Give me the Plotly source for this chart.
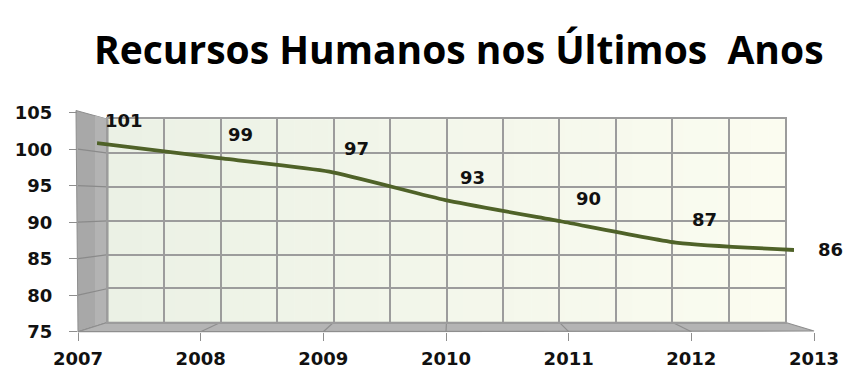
import plotly.graph_objects as go

# Headcount per year
years = ["2007", "2008", "2009", "2010", "2011", "2012", "2013"]
headcount = [101, 99, 97, 93, 90, 87, 86]
y_ticks = [75, 80, 85, 90, 95, 100, 105]

W, H = 843, 369
Y_MIN, Y_MAX = 75, 105

# pixel boxes of the three planes of the pseudo-3D chart
FRONT = dict(x0=78, x1=814, y_top=112.7, y_bot=331.7)
BACK = dict(x0=108, x1=785, y_top=119.3, y_bot=322.3)
MID = dict(x0=97, x1=794, y_top=114.7, y_bot=328.3)


def px(x):
    return x / W


def py(y):
    return 1 - y / H


def dom_x(box):
    return [px(box["x0"]), px(box["x1"])]


def dom_y(box):
    return [py(box["y_bot"]), py(box["y_top"])]


def y_on(box, v):
    return box["y_bot"] - (v - Y_MIN) / (Y_MAX - Y_MIN) * (box["y_bot"] - box["y_top"])


def x_on(box, k):
    return box["x0"] + k / (len(years) - 1) * (box["x1"] - box["x0"])


grid_col = "#9c9c9c"
tick_font = dict(family="DejaVu Sans", size=18, color="#111111", weight=700)

fig = go.Figure()

# invisible anchors so the front and back axes get their own subplots
fig.add_trace(go.Scatter(x=[0, 6], y=[Y_MIN, Y_MAX], xaxis="x", yaxis="y",
                         mode="markers", marker=dict(opacity=0), hoverinfo="skip", showlegend=False))
fig.add_trace(go.Scatter(x=[0, 6], y=[Y_MIN, Y_MAX], xaxis="x2", yaxis="y2",
                         mode="markers", marker=dict(opacity=0), hoverinfo="skip", showlegend=False))

fig.add_trace(go.Scatter(
    x=years, y=headcount, xaxis="x3", yaxis="y3",
    mode="lines", line=dict(color="#4f6228", width=3.8, shape="spline", smoothing=0.5),
    hoverinfo="x+y", showlegend=False,
))

shapes = []

# back wall gradient
n_strips = 40
c0 = (235, 241, 229)
c1 = (251, 252, 240)
for i in range(n_strips):
    t = i / (n_strips - 1)
    col = tuple(round(a + (b - a) * t) for a, b in zip(c0, c1))
    xa = BACK["x0"] + (BACK["x1"] - BACK["x0"]) * i / n_strips
    xb = BACK["x0"] + (BACK["x1"] - BACK["x0"]) * (i + 1) / n_strips + 0.6
    shapes.append(dict(type="rect", xref="paper", yref="paper", layer="below",
                       x0=px(xa), x1=px(min(xb, BACK["x1"])), y0=py(BACK["y_bot"]), y1=py(BACK["y_top"]),
                       fillcolor="rgb(%d,%d,%d)" % col, line=dict(width=0)))


def path(points):
    return "M " + " L ".join("%.5f,%.5f" % (px(a), py(b)) for a, b in points) + " Z"


# left side wall
shapes.append(dict(type="path", xref="paper", yref="paper", layer="below",
                   path=path([(76, 110.5), (BACK["x0"], BACK["y_top"]), (BACK["x0"], BACK["y_bot"]), (78, 332)]),
                   fillcolor="#a8a8a8", line=dict(color="#8e8e8e", width=1)))
shapes.append(dict(type="path", xref="paper", yref="paper", layer="below",
                   path=path([(95, 115.5), (BACK["x0"], BACK["y_top"]), (BACK["x0"], BACK["y_bot"]), (95, 326.5)]),
                   fillcolor="#b3b3b3", line=dict(width=0)))
for v in y_ticks[:-1]:
    shapes.append(dict(type="line", xref="paper", yref="paper", layer="below",
                       x0=px(FRONT["x0"]), y0=py(y_on(FRONT, v)), x1=px(BACK["x0"]), y1=py(y_on(BACK, v)),
                       line=dict(color="#8a8a8a", width=1.2)))

# floor
shapes.append(dict(type="path", xref="paper", yref="paper", layer="below",
                   path=path([(FRONT["x0"], FRONT["y_bot"]), (BACK["x0"], BACK["y_bot"]),
                              (BACK["x1"], BACK["y_bot"]), (FRONT["x1"], 331)]),
                   fillcolor="#b4b4b4", line=dict(color="#8e8e8e", width=1.2)))
for k in range(1, len(years) - 1):
    shapes.append(dict(type="line", xref="paper", yref="paper", layer="below",
                       x0=px(x_on(BACK, k)), y0=py(BACK["y_bot"]), x1=px(x_on(FRONT, k)), y1=py(FRONT["y_bot"]),
                       line=dict(color="#8e8e8e", width=1.2)))

annotations = []
for i, (yr, v) in enumerate(zip(years, headcount)):
    last = i == len(years) - 1
    annotations.append(dict(
        x=i, y=v, xref="x3", yref="y3", text=str(v), showarrow=False,
        xshift=36 if last else 27, yshift=0 if last else 23,
        font=tick_font,
    ))

annotations.append(dict(
    x=px(459.5), y=py(48), xref="paper", yref="paper", xanchor="center", yanchor="middle",
    text="Recursos Humanos nos Últimos  Anos", showarrow=False,
    font=dict(family="Open Sans", size=39, color="#000000", weight=700),
))

fig.update_layout(
    width=W, height=H, margin=dict(l=0, r=0, t=0, b=0, pad=0, autoexpand=False),
    paper_bgcolor="white", plot_bgcolor="rgba(0,0,0,0)",
    shapes=shapes, annotations=annotations, showlegend=False,
    xaxis=dict(domain=dom_x(FRONT), range=[0, 6], anchor="y", automargin=False,
               tickmode="array", tickvals=list(range(len(years))), ticktext=years,
               ticks="outside", ticklen=8, tickcolor="#8e8e8e", tickwidth=1.2,
               showgrid=False, zeroline=False, showline=False,
               tickfont=tick_font, ticklabelstandoff=3, fixedrange=True),
    yaxis=dict(domain=dom_y(FRONT), range=[Y_MIN, Y_MAX], anchor="x", automargin=False,
               tickmode="array", tickvals=y_ticks,
               ticks="outside", ticklen=8, tickcolor="#8e8e8e", tickwidth=1.2,
               showgrid=False, zeroline=False, showline=False,
               tickfont=tick_font, ticklabelstandoff=13, fixedrange=True),
    xaxis2=dict(domain=dom_x(BACK), range=[0, 6], anchor="y2", dtick=0.5, tick0=0, automargin=False,
                showticklabels=False, ticks="", showgrid=True, gridcolor=grid_col, gridwidth=1.5,
                zeroline=False, showline=True, mirror=True, linecolor=grid_col, linewidth=1.5),
    yaxis2=dict(domain=dom_y(BACK), range=[Y_MIN, Y_MAX], anchor="x2", dtick=5, tick0=75, automargin=False,
                showticklabels=False, ticks="", showgrid=True, gridcolor=grid_col, gridwidth=1.5,
                zeroline=False, showline=True, mirror=True, linecolor=grid_col, linewidth=1.5),
    xaxis3=dict(domain=dom_x(MID), range=[0, 6], anchor="y3", visible=False, automargin=False),
    yaxis3=dict(domain=dom_y(MID), range=[Y_MIN, Y_MAX], anchor="x3", visible=False, automargin=False),
)

fig.write_html("out.html")
